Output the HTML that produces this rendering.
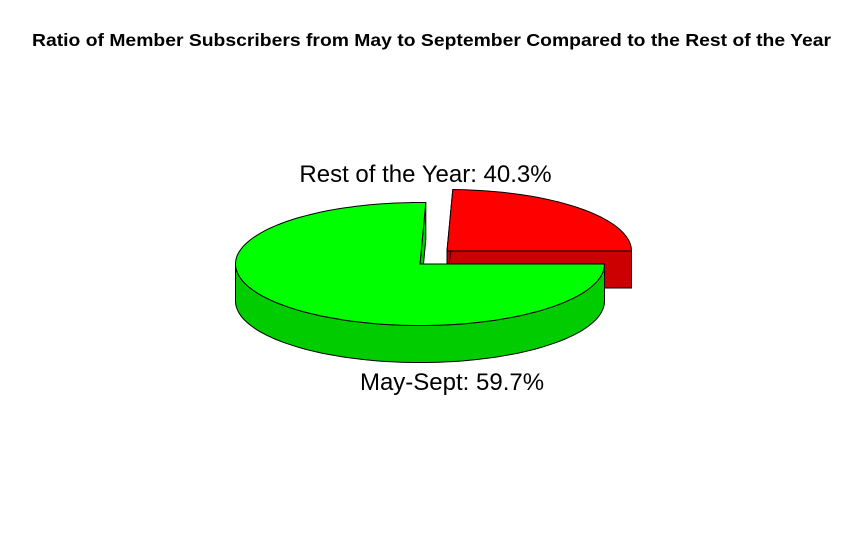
<!DOCTYPE html>
<html><head><meta charset="utf-8"><style>
html,body{margin:0;padding:0;background:#fff;}
svg{display:block;font-family:"Liberation Sans",Arial,sans-serif;}
</style></head><body>
<svg id="chart" width="866" height="553">
<rect width="866" height="553" fill="#fff"/>
<text x="431.5" y="46" text-anchor="middle" font-size="17.5" font-weight="bold" textLength="799" lengthAdjust="spacingAndGlyphs">Ratio of Member Subscribers from May to September Compared to the Rest of the Year</text>
<g id="slices"></g>
</svg>
<script>
const sliceNames = ["Rest of the Year", "May-Sept"];
const sliceShares = [24.5, 75.5];
const sliceLabels = ["Rest of the Year: 40.3%", "May-Sept: 59.7%"];
const sliceColors = ["#ff0000", "#00ff00"];
const sideColors = ["#cc0000", "#00cc00"];

const NS = "http://www.w3.org/2000/svg";
const g = document.getElementById("slices");
const rx = 184.5, ry = 61.5, depth = 37;
const centers = [[447, 251], [420, 264]];
const labelPos = [[425.5, 182], [452, 390]];
function pt(c, a, dy) { const r = a * Math.PI / 180; return [c[0] + rx * Math.cos(r), c[1] - ry * Math.sin(r) + (dy || 0)]; }
function arcPts(c, a0, a1, dy) { const p = []; const n = Math.max(2, Math.ceil(Math.abs(a1 - a0) / 2)); for (let i = 0; i <= n; i++) p.push(pt(c, a0 + (a1 - a0) * i / n, dy)); return p; }
function poly(pts, fill, name) {
  const e = document.createElementNS(NS, "polygon");
  e.setAttribute("points", pts.map(p => p[0].toFixed(1) + "," + p[1].toFixed(1)).join(" "));
  e.setAttribute("fill", fill); e.setAttribute("stroke", "#000"); e.setAttribute("stroke-width", "1");
  
  
  g.appendChild(e);
}
const total = sliceShares.reduce((a, b) => a + b, 0);
let start = 0;
sliceShares.forEach((v, i) => {
  const span = v / total * 360;
  const a0 = start, a1 = start + span;
  start += span;
  const c = centers[i];
  [a0, a1].forEach((a, k) => {
    const p = pt(c, a);
    poly([[c[0], c[1]], p, [p[0], p[1] + depth], [c[0], c[1] + depth]], sideColors[i], "slice-cut-face-" + (i + 1) + "-" + (k + 1));
  });
  const s0 = Math.max(a0, 180), s1 = Math.min(a1, 360);
  if (s1 > s0) {
    const top = arcPts(c, s0, s1, 0), bot = arcPts(c, s1, s0, depth);
    poly(top.concat(bot), sideColors[i], "slice-side-" + (i + 1));
  }
  poly([[c[0], c[1]]].concat(arcPts(c, a0, a1, 0)), sliceColors[i], "slice-top-" + (i + 1));
  const t = document.createElementNS(NS, "text");
  t.setAttribute("x", labelPos[i][0]); t.setAttribute("y", labelPos[i][1]);
  t.setAttribute("text-anchor", "middle"); t.setAttribute("font-size", "24");
  t.textContent = sliceLabels[i];
  
  
  document.getElementById("chart").appendChild(t);
});
</script>
</body></html>
